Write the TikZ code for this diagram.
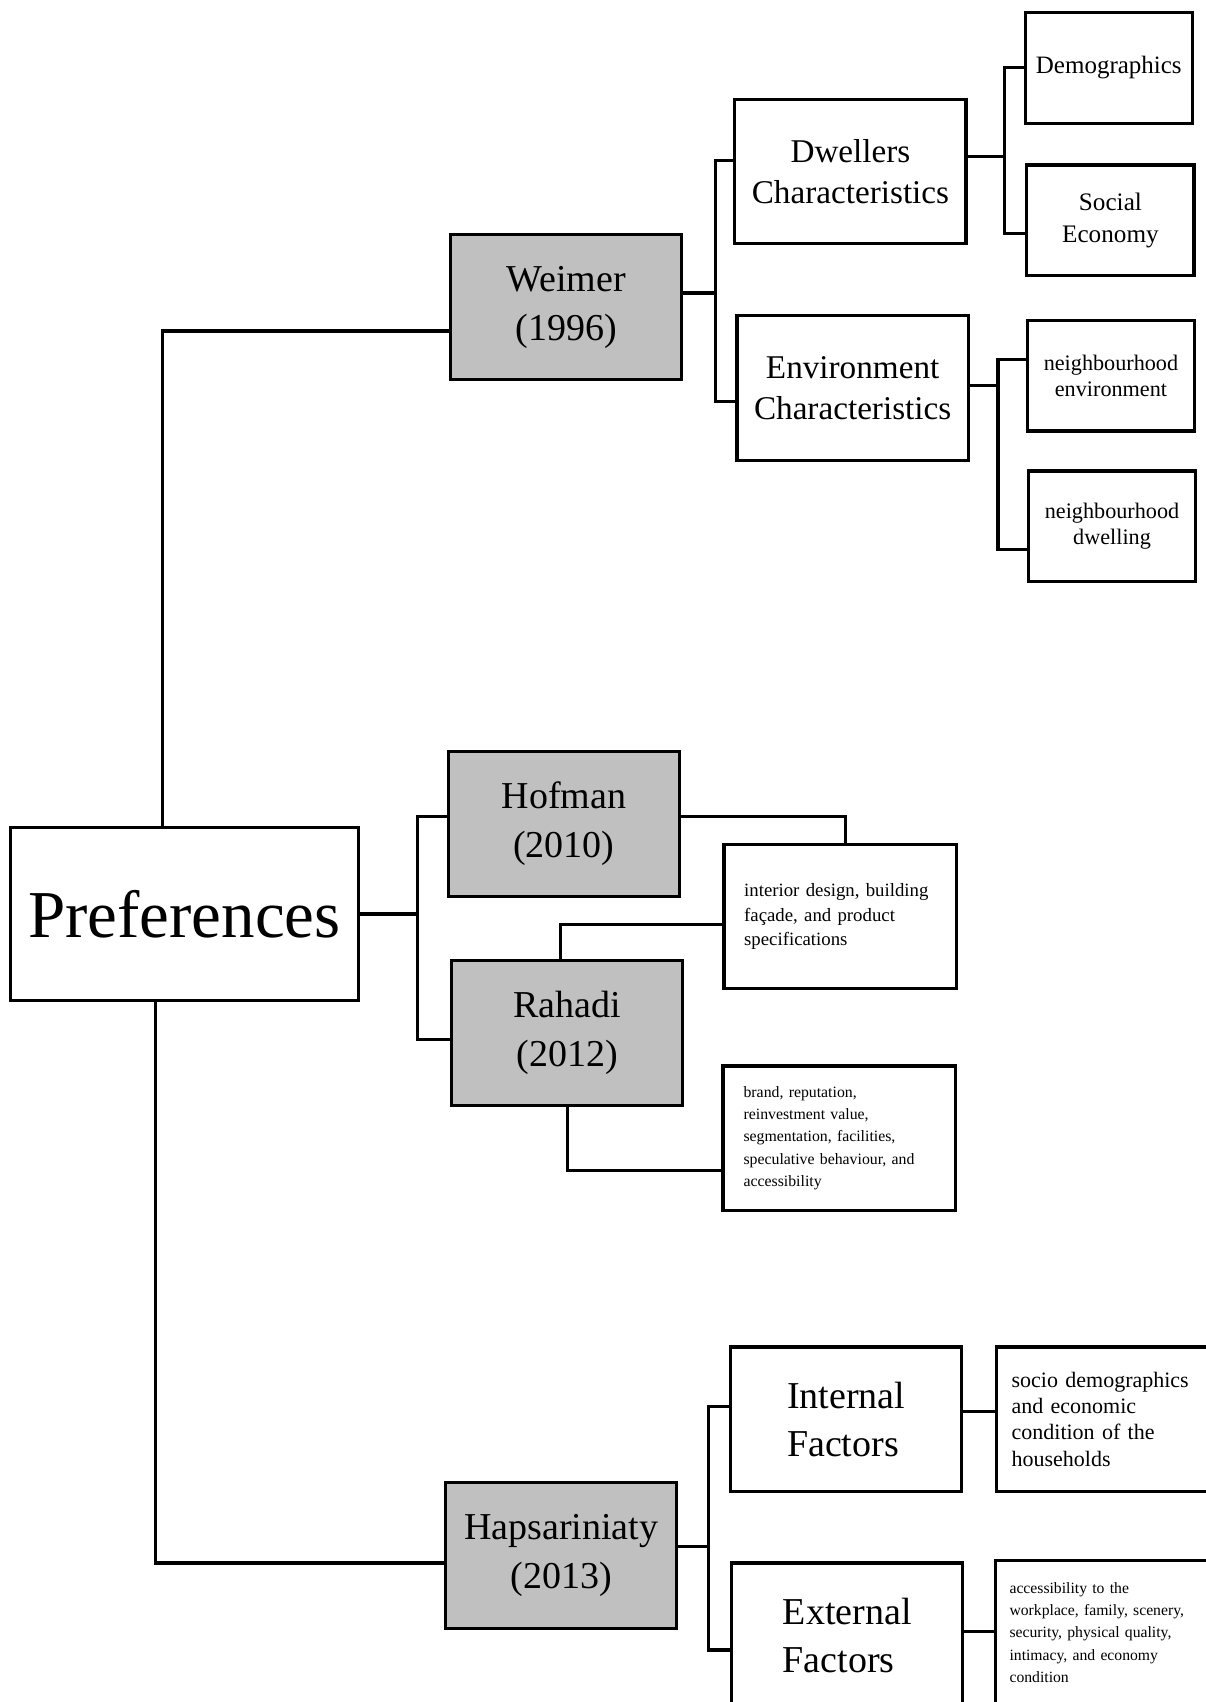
\documentclass[tikz,border=0pt]{standalone}
\usepackage{fontspec}
\setmainfont{Liberation Serif}
\usetikzlibrary{calc}
\definecolor{authorgray}{RGB}{192,192,192}
\begin{document}
\begin{tikzpicture}[x=0.5428pt, y=-0.5428pt, line width=1.6pt,
box/.style ={draw, inner sep=0pt, line width=1.6pt},
author/.style ={box, fill=authorgray, minimum width=115.6pt, minimum height=72.7pt,
align=center, font=\fontsize{19}{24.4}\selectfont},
factor/.style ={box, minimum width=115.6pt, minimum height=72.2pt,
align=center, font=\fontsize{16.6}{20.6}\selectfont},
leaf/.style ={box, minimum width=83.6pt, minimum height=55.4pt,
align=center, font=\fontsize{11.1}{13}\selectfont},
note/.style ={box, minimum height=72.2pt, align=left}]
\useasboundingbox (0,0) rectangle (1111,1568);
\clip (0,0) rectangle (1111,1568);
\node[box, minimum width=173.7pt, minimum height=86.8pt, font=\fontsize{33.5}{40}\selectfont] (P) at (170,842) {Preferences};
\node[author] (A1) at (521.5,283) {Weimer\\(1996)};
\node[author] (A2) at (519.5,759) {Hofman\\(2010)};
\node[author] (A3) at (522.5,951.5) {Rahadi\\(2012)};
\node[author] (A4) at (517,1433) {Hapsariniaty\\(2013)};
\node[factor] (B1) at (783.5,158) {Dwellers\\Characteristics};
\node[factor] (B2) at (785.5,357.5) {Environment\\Characteristics};
\node[factor, align=left, font=\fontsize{19}{24}\selectfont] (B3) at (779.5,1307.5) {Internal\\Factors};
\node[factor, align=left, font=\fontsize{19}{24}\selectfont] (B4) at (780.5,1506.5) {External\\Factors};
\node[leaf, font=\fontsize{12.5}{15.7}\selectfont] (C1) at (1021.5,62.5) {Demographics};
\node[leaf, font=\fontsize{12.6}{15.7}\selectfont] (C2) at (1023,203) {Social\\Economy};
\node[leaf] (C3) at (1023.5,346) {neighbourhood\\environment};
\node[leaf] (C4) at (1024.5,485) {neighbourhood\\dwelling};
\node[note, text width=96pt, inner xsep=10.1pt, font=\fontsize{9.4}{12.2}\selectfont] (N1) at (774,844.5) {interior design, building\\façade, and product\\specifications};
\node[note, text width=95.5pt, inner xsep=10.3pt, font=\fontsize{7.9}{11.1}\selectfont] (N2) at (773,1048.5) {brand, reputation,\\reinvestment value,\\segmentation, facilities,\\speculative behaviour, and\\accessibility};
\node[note, text width=101pt, inner xsep=7.6pt, font=\fontsize{11}{13.2}\selectfont] (N3) at (1025,1307.5) {socio demographics\\and economic\\condition of the\\households};
\node[note, text width=102pt, inner xsep=7.1pt, font=\fontsize{7.85}{11.1}\selectfont] (N4) at (1024,1504) {accessibility to the\\workplace, family, scenery,\\security, physical quality,\\intimacy, and economy\\condition};
\draw ($(P.north)+(-20,0)$) |- ($(A1.west)+(0,22)$);
\draw ($(P.south)+(-27,0)$) |- ($(A4.west)+(0,7)$);
\draw (P.east) -- ++(53,0) coordinate (Pbus);
\draw ($(A2.west)+(0,-7)$) -| (Pbus) |- ($(A3.west)+(0,6.5)$);
\draw ($(A2.east)+(0,-7)$) -| ($(N1.north)+(5,0)$);
\draw ($(N1.west)+(0,7.5)$) -| ($(A3.north)+(-6.5,0)$);
\draw (A3.south) |- ($(N2.west)+(0,29.5)$);
\draw ($(A1.east)+(0,-13)$) -- ++(30,0) coordinate (A1bus);
\draw ($(B1.west)+(0,-10)$) -| (A1bus) |- ($(B2.west)+(0,12.5)$);
\draw ($(B1.east)+(0,-14)$) -- ++(34,0) coordinate (B1bus);
\draw (C1.west) -| (B1bus) |- ($(C2.west)+(0,12)$);
\draw ($(B2.east)+(0,-2.5)$) -- ++(26,0) coordinate (B2bus);
\draw ($(C3.west)+(0,-15)$) -| (B2bus) |- ($(C4.west)+(0,21)$);
\draw ($(A4.east)+(0,-8)$) -- ++(28,0) coordinate (A4bus);
\draw ($(B3.west)+(0,-11.5)$) -| (A4bus) |- ($(B4.west)+(0,13.5)$);
\draw ($(B3.east)+(0,-7.5)$) -- ($(N3.west)+(0,-7.5)$);
\draw ($(B4.east)+(0,-3.5)$) -- ($(N4.west)+(0,-1)$);
\end{tikzpicture}
\end{document}
